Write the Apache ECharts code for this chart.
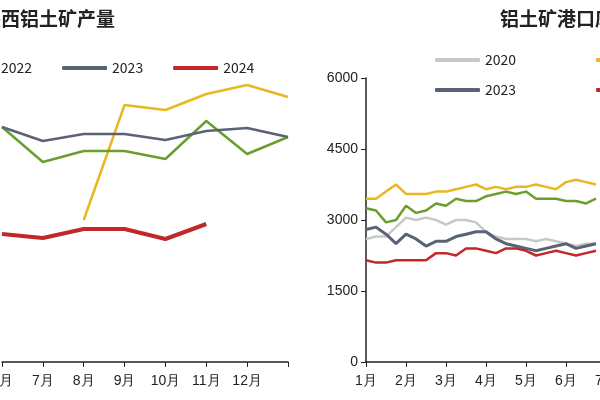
<!DOCTYPE html>
<html>
<head>
<meta charset="utf-8">
<script src="https://cdn.jsdelivr.net/npm/echarts@6/dist/echarts.min.js"></script>
<style>html,body{margin:0;padding:0;background:#fff}#c{width:600px;height:400px}</style>
</head>
<body>
<div id="c"></div>
<script>
//左图：产量（月度）
var prodMonths = ['6月', '7月', '8月', '9月', '10月', '11月', '12月', ''];
var prod2021 = [null, null, 142, 257, 252, 268, 277, 265];
var prod2022 = [235, 200, 211, 211, 203, 241, 208, 225];
var prod2023 = [235, 221, 228, 228, 222, 231, 234, 225];
var prod2024 = [128, 124, 133, 133, 123, 138];

//右图：港口库存（周度）
var portWeeks = [];
for (var m = 1; m <= 12; m++) {
	for (var w = 0; w < 4; w++) portWeeks.push(m + '月');
}
var port2020 = [2600, 2650, 2650, 2850, 3050, 3000, 3050, 3000, 2900, 3000, 3000, 2950, 2750, 2650, 2600, 2600, 2600, 2550, 2600, 2550, 2500, 2450, 2500, 2500];
var port2021 = [3450, 3450, 3600, 3750, 3550, 3550, 3550, 3600, 3600, 3650, 3700, 3750, 3650, 3700, 3650, 3700, 3700, 3750, 3700, 3650, 3800, 3850, 3800, 3750];
var port2022 = [3250, 3200, 2950, 3000, 3300, 3150, 3200, 3350, 3300, 3450, 3400, 3400, 3500, 3550, 3600, 3550, 3600, 3450, 3450, 3450, 3400, 3400, 3350, 3450];
var port2023 = [2800, 2850, 2700, 2500, 2700, 2600, 2450, 2550, 2550, 2650, 2700, 2750, 2750, 2600, 2500, 2450, 2400, 2350, 2400, 2450, 2500, 2400, 2450, 2500];
var port2024 = [2150, 2100, 2100, 2150, 2150, 2150, 2150, 2300, 2300, 2250, 2400, 2400, 2350, 2300, 2400, 2400, 2350, 2250, 2300, 2350, 2300, 2250, 2300, 2350];

var C = { y: '#E8B820', g: '#6A9E2E', d: '#5A6275', r: '#C0282A', l: '#C8C8C8' };
var txt = { color: '#222', fontSize: 14, fontFamily: 'Noto Sans CJK SC' };

function line(name, data, color, xi, w) {
	return {
		name: name, type: 'line', xAxisIndex: xi, yAxisIndex: xi, data: data,
		symbol: 'none', connectNulls: false,
		lineStyle: { color: color, width: w || 2.5 }, itemStyle: { color: color }
	};
}
var legendBase = { orient: 'horizontal', width: 500, icon: 'roundRect', itemWidth: 45, itemHeight: 4, textStyle: txt, selectedMode: false };

var myChart = echarts.init(document.getElementById('c'));
myChart.setOption({
	animation: false,
	title: [
		{ text: '陕西铝土矿产量', left: -23, top: 4, textStyle: { fontSize: 19, fontWeight: 'bold', color: '#222', fontFamily: 'Noto Sans CJK SC' } },
		{ text: '铝土矿港口库存', left: 495, top: 4, textStyle: { fontSize: 19, fontWeight: 'bold', color: '#222', fontFamily: 'Noto Sans CJK SC' } }
	],
	legend: [
		Object.assign({}, legendBase, { data: ['2022', '2023', '2024'], left: -54, top: 56, itemGap: 30 }),
		Object.assign({}, legendBase, { data: ['2020', '2021'], left: 430, top: 48, itemGap: 80 }),
		Object.assign({}, legendBase, { data: ['2023', '2024'], left: 430, top: 78, itemGap: 80 })
	],
	grid: [
		{ left: 2, width: 286, top: 32, bottom: 38, outerBoundsMode: 'none' },
		{ left: 366, width: 470, top: 78, bottom: 38, outerBoundsMode: 'none' }
	],
	xAxis: [
		{ type: 'category', gridIndex: 0, data: prodMonths, boundaryGap: false,
		  axisLine: { lineStyle: { color: '#222', width: 1.5 } }, axisTick: { lineStyle: { color: '#222' } },
		  axisLabel: { color: '#222', fontSize: 14, margin: 12 } },
		{ type: 'category', gridIndex: 1, data: portWeeks, boundaryGap: false,
		  axisLine: { lineStyle: { color: '#222', width: 1.5 } },
		  axisTick: { interval: 3, lineStyle: { color: '#222' } },
		  axisLabel: { interval: 3, color: '#222', fontSize: 14, margin: 12 } }
	],
	yAxis: [
		{ type: 'value', gridIndex: 0, min: 0, max: 330, show: false },
		{ type: 'value', gridIndex: 1, min: 0, max: 6000, interval: 1500, splitLine: { show: false },
		  axisLine: { show: true, lineStyle: { color: '#222', width: 1.5 } },
		  axisTick: { show: true, lineStyle: { color: '#222' } },
		  axisLabel: { color: '#222', fontSize: 14, formatter: function (v) { return String(v); } } }
	],
	series: [
		line('2021', prod2021, C.y, 0),
		line('2022', prod2022, C.g, 0),
		line('2023', prod2023, C.d, 0),
		line('2024', prod2024, C.r, 0, 4),
		line('2020', port2020, C.l, 1),
		line('2021', port2021, C.y, 1),
		line('2022', port2022, C.g, 1),
		line('2023', port2023, C.d, 1, 3),
		line('2024', port2024, C.r, 1)
	]
});
</script>
</body>
</html>
